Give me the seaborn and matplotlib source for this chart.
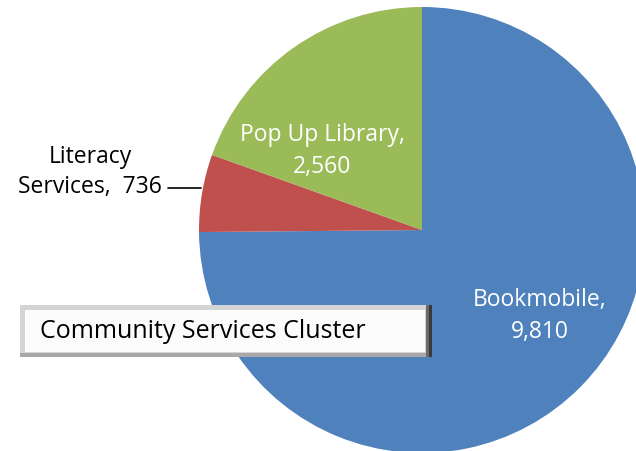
import matplotlib
matplotlib.use("Agg")
import matplotlib.pyplot as plt
import seaborn as sns
from matplotlib.patches import Rectangle

# data
categories = ["Bookmobile", "Literacy Services", "Pop Up Library"]
values = [9810, 736, 2560]
colors = ["#4F81BD", "#C0504D", "#9BBB59"]
title = "Community Services Cluster"

sns.set_theme(style="white")
plt.rcParams['font.family'] = ['Open Sans', 'DejaVu Sans']

fig = plt.figure(figsize=(6.36, 4.52), dpi=100)
ax = fig.add_axes([0, 0, 1, 1])

# pie, clockwise from 12 o'clock
ax.pie(values, colors=colors, startangle=90, counterclock=False,
       radius=223, center=(422, 221), wedgeprops=dict(linewidth=0),
       frame=True)
ax.set_xlim(0, 636)
ax.set_ylim(0, 452)
ax.set_aspect("equal")
ax.axis("off")

# labels
ax.text(540, 452 - 316, f"{categories[0]},\n{values[0]:,}", color="white",
        fontsize=16.5, ha="center", va="center", linespacing=1.4)
ax.text(322, 452 - 151, f"{categories[2]},\n{values[2]:,}", color="white",
        fontsize=16.5, ha="center", va="center", linespacing=1.45)
ax.text(90, 452 - 172, "Literacy\nServices,  " + f"{values[1]:,}", color="black",
        fontsize=16.5, ha="center", va="center", linespacing=1.35)
ax.plot([168, 201], [452 - 189, 452 - 189], color="black", lw=1.2)

# title box with a bevelled look
x0, y0, w, h = 20, 452 - 358, 412, 52
ax.add_patch(Rectangle((x0, y0), w, h, facecolor="#d4d4d4", edgecolor="none"))
ax.add_patch(Rectangle((x0 + w - 6, y0), 6, h, facecolor="#6a6a6a", edgecolor="none"))
ax.add_patch(Rectangle((x0 + w - 3, y0), 3, h, facecolor="#3a3a3a", edgecolor="none"))
ax.add_patch(Rectangle((x0, y0), w - 6, 4, facecolor="#a8a8a8", edgecolor="none"))
ax.add_patch(Rectangle((x0 + 5, y0 + 5), w - 12, h - 10, facecolor="#fbfbfb", edgecolor="none"))
ax.text(x0 + 20, y0 + h / 2, title, fontsize=18, ha="left", va="center", color="black")

fig.savefig("out.png", dpi=100)
